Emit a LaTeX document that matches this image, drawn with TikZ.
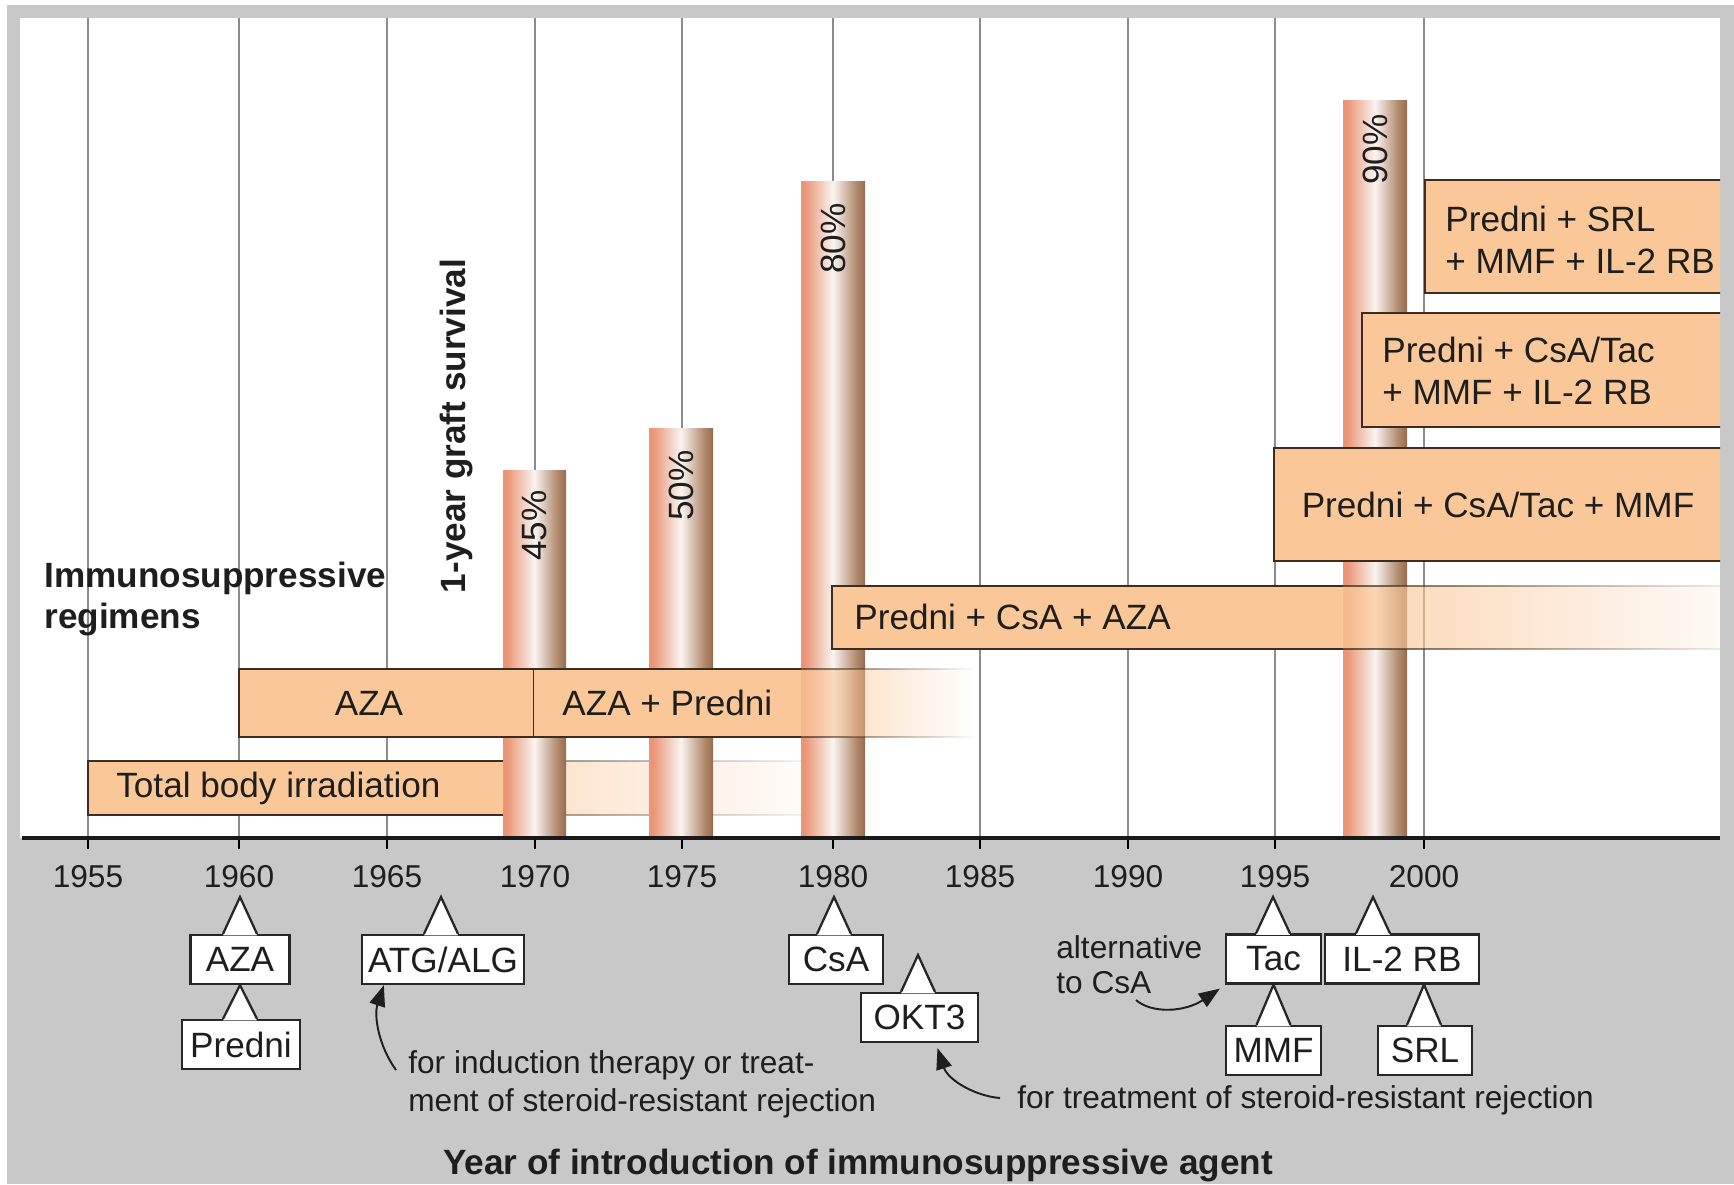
\documentclass[tikz,border=0pt]{standalone}
\usepackage{fontspec}
\setmainfont{Liberation Sans}
\usepackage{tikz}
\usetikzlibrary{arrows.meta,calc,fadings}

\definecolor{bggray}{RGB}{200,200,200}
\definecolor{gridgray}{RGB}{140,140,140}
\definecolor{regfill}{RGB}{250,200,152}
\definecolor{regline}{RGB}{60,45,32}
\definecolor{barL}{RGB}{234,150,118}
\definecolor{barM}{RGB}{250,244,240}
\definecolor{barRl}{RGB}{178,138,110}
\definecolor{barR}{RGB}{150,108,80}
\definecolor{txt}{RGB}{30,30,30}

\pgfdeclarehorizontalshading{barshade}{100bp}{color(0bp)=(barL); color(28bp)=(barL); color(50bp)=(barM); color(68bp)=(barRl); color(75bp)=(barR); color(100bp)=(barR)}

\tikzfading[name=tailfadeA, left color=transparent!30, right color=transparent!100]
\tikzfading[name=tailfadeB, left color=transparent!45, right color=transparent!100]
\tikzfading[name=tailfadeC, left color=transparent!25, right color=transparent!92]

\tikzstyle{yearline}=[gridgray, line width=1.5pt]
\tikzstyle{year}=[font=\fontsize{18}{21}\selectfont, text=txt, inner sep=0pt]
\tikzstyle{regime}=[fill=regfill]
\tikzstyle{regedge}=[draw=regline, line width=1.4pt]
\tikzstyle{regtext}=[font=\fontsize{20}{24}\selectfont, text=txt, inner sep=0pt]
\tikzstyle{survival}=[shading=barshade]
\tikzstyle{pct}=[rotate=90, anchor=east, font=\fontsize{20}{24}\selectfont, text=txt, inner sep=0pt]
\tikzstyle{agent}=[draw=black!85, fill=white, line width=1.3pt, minimum height=0.98cm, inner sep=0pt, font=\fontsize{20}{24}\selectfont, text=txt]
\tikzstyle{agentline}=[draw=black!85, line width=1.3pt]
\tikzstyle{note}=[font=\fontsize{18}{21.5}\selectfont, align=left, inner sep=0pt, text=txt]
\tikzstyle{notearrow}=[line width=1.1pt, txt, -{Triangle[length=12pt,width=9pt]}]
\tikzstyle{heading}=[font=\bfseries\fontsize{20}{23}\selectfont, text=txt, inner sep=0pt]

% pointer on top of an agent box: #1 box, #2 apex
\newcommand\agentpointer[2]{%
  \fill[white] ($(#2 |- #1.north)+(-17,1.5)$) -- (#2) -- ($(#2 |- #1.north)+(17,1.5)$) -- cycle;
  \draw[agentline] ($(#2 |- #1.north)+(-17,0)$) -- (#2) -- ($(#2 |- #1.north)+(17,0)$);
}

\begin{document}
\begin{tikzpicture}[x=0.02cm, y=-0.02cm]

\useasboundingbox (0,0) rectangle (1734,1184);
\fill[white] (0,0) rectangle (1734,1184);
\fill[bggray] (7,5) rectangle (1734,1184);
\fill[white] (20,18) rectangle (1720,838);

% years
\foreach \x/\yr in {88/1955, 239/1960, 387/1965, 535/1970, 682/1975, 833/1980, 980/1985, 1128/1990, 1275/1995, 1424/2000} {
  \draw[yearline] (\x,18) -- (\x,838);
  \draw[line width=1.5pt] (\x,838) -- (\x,849);
  \node[year] (y\yr) at (\x,877) {\yr};
}

% fading end of total body irradiation (behind the bars)
\fill[regime, path fading=tailfadeB] (503,761) rectangle (835,815);
\draw[regedge, path fading=tailfadeB] (503,761) -- (835,761) (503,815) -- (835,815);

% graft survival
\shade[survival] (503,470) rectangle (566,838);
\node[pct] (p45) at (534,490) {45\%};
\shade[survival] (649,428) rectangle (713,838);
\node[pct] (p50) at (681,450) {50\%};
\shade[survival] (801,181) rectangle (865,838);
\node[pct] (p80) at (833,203) {80\%};
\shade[survival] (1343,100) rectangle (1407,838);
\node[pct] (p90) at (1375,114) {90\%};

% regimens
\fill[regime] (88,761) rectangle (503,815);
\draw[regedge] (503,761) -- (88,761) -- (88,815) -- (503,815);
\filldraw[regime, regedge] (239,669) rectangle (534,737);
\fill[regime] (534,669) rectangle (801,737);
\draw[regedge] (534,669) -- (801,669) (534,737) -- (801,737);
\fill[regime, path fading=tailfadeA] (801,669) rectangle (975,737);
\draw[regedge, path fading=tailfadeA] (801,669) -- (975,669) (801,737) -- (975,737);
\fill[regime] (832,586) rectangle (1343,649);
\draw[regedge] (1343,586) -- (832,586) -- (832,649) -- (1343,649);
\fill[regime, path fading=tailfadeC] (1343,586) rectangle (1720,649);
\draw[regedge, path fading=tailfadeC] (1343,586) -- (1720,586) (1343,649) -- (1720,649);
\begin{scope}
\clip (20,18) rectangle (1720,838);
\filldraw[regime, regedge] (1274,448) rectangle (1760,561);
\filldraw[regime, regedge] (1362,313) rectangle (1760,427);
\filldraw[regime, regedge] (1425,180) rectangle (1760,293);
\end{scope}

\node[regtext, anchor=west] (tbi) at (116,788) {Total body irradiation};
\node[regtext] (azabox) at (369,703) {AZA};
\node[regtext, anchor=west] (azapred) at (562,703) {AZA + Predni};
\node[regtext, anchor=west] (pca) at (854,617) {Predni + CsA + AZA};
\node[regtext] (pcm) at (1498,505) {Predni + CsA/Tac + MMF};
\node[regtext, anchor=west, align=left] (pcmi) at (1382,371) {Predni + CsA/Tac\\+ MMF + IL-2 RB};
\node[regtext, anchor=west, align=left] (psmi) at (1445,240) {Predni + SRL\\+ MMF + IL-2 RB};

% axis
\draw[line width=1.9pt, black!90] (22,838) -- (1720,838);

\node[heading, anchor=west, align=left] (regimens) at (44,599) {Immunosuppressive\\regimens};
\node[heading, rotate=90] (graft) at (456,426) {1-year graft survival};
\node[heading] (xlabel) at (858,1165) {Year of introduction of immunosuppressive agent};

% agents
\coordinate (a1960) at (240,897);
\node[agent, minimum width=1.98cm] (aza) at (240,959.5) {AZA};
\agentpointer{aza}{a1960}
\node[agent, minimum width=2.36cm] (predni) at (241,1044.5) {Predni};
\agentpointer{predni}{aza.south}
\coordinate (a1967) at (441,897);
\node[agent, minimum width=3.24cm] (atg) at (443,959.5) {ATG/ALG};
\agentpointer{atg}{a1967}
\coordinate (a1980) at (834,897);
\node[agent, minimum width=1.88cm] (csa) at (836,959.5) {CsA};
\agentpointer{csa}{a1980}
\coordinate (a1983) at (918,955);
\node[agent, minimum width=2.34cm] (okt3) at (919.5,1017.5) {OKT3};
\agentpointer{okt3}{a1983}
\coordinate (a1995) at (1273,897);
\node[agent, minimum width=1.9cm] (tac) at (1273.5,959) {Tac};
\agentpointer{tac}{a1995}
\coordinate (a1998) at (1373,897);
\node[agent, minimum width=3.08cm] (il2) at (1402,959) {IL-2 RB};
\agentpointer{il2}{a1998}
\node[agent, minimum width=1.9cm] (mmf) at (1273.5,1050.5) {MMF};
\agentpointer{mmf}{tac.south}
\coordinate (a2000) at ([xshift=0.44cm]il2.south);
\node[agent, minimum width=1.88cm] (srl) at (1425,1050.5) {SRL};
\agentpointer{srl}{a2000}

% notes
\node[note, anchor=west] (induction) at (408,1084) {for induction therapy or treat-\\ment of steroid-resistant rejection};
\coordinate (inductiontail) at (396,1070);
\draw[notearrow] (inductiontail) .. controls (378,1045) and (374,1015) .. ([xshift=0.46cm]atg.south west);

\node[note, anchor=west, font=\fontsize{18}{20}\selectfont] (alternative) at (1056,964.5) {alternative\\to CsA};
\coordinate (alttail) at (1136,1000);
\draw[notearrow] (alttail) .. controls (1152,1014) and (1185,1012) .. ([xshift=-0.1cm,yshift=-0.08cm]tac.south west);

\node[note, anchor=west] (steroid) at (1017,1100) {for treatment of steroid-resistant rejection};
\coordinate (steroidtail) at (1000,1098);
\draw[notearrow] (steroidtail) .. controls (975,1096) and (948,1080) .. ([xshift=0.36cm,yshift=-0.1cm]okt3.south);

\end{tikzpicture}
\end{document}
